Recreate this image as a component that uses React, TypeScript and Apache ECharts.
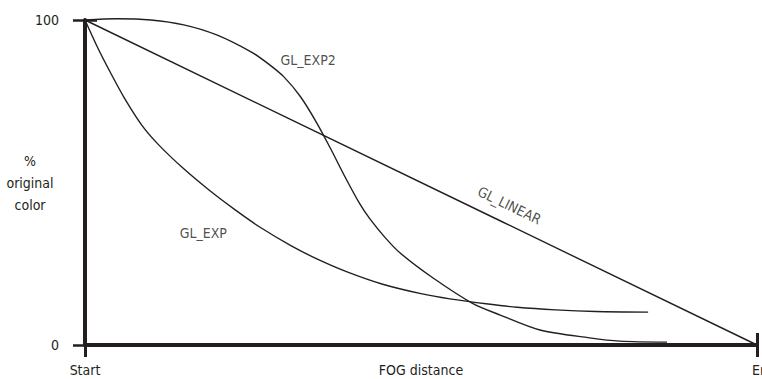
import React, { useEffect, useRef } from "react";
import * as echarts from "echarts";

// X: 0 = Start, 100 = End ; Y: % original color
const xTickLabels: Record<number, string> = { 0: "Start", 100: "End" };
const yTickValues = [0, 100];

const linearX = [0, 62, 100];
const linearY = [100, 38, 0];

const expX = [0, 2, 4, 6, 8.5, 11, 14.7, 18.5, 22.2, 26, 30.7, 34.5, 39, 44.3, 50, 54.3, 60, 64.3, 70, 76, 83.8];
const expY = [100, 91, 83, 75.5, 67.5, 61.5, 54.2, 47.6, 41.8, 36.3, 30.5, 26.5, 22.5, 18.7, 15.8, 14.2, 12.6, 11.6, 10.8, 10.3, 10.1];

const exp2X = [0, 4.8, 9.8, 14.7, 19.6, 24.7, 27.1, 29.6, 32.1, 34.5, 36.5, 38.7, 40.9, 42.4, 44.6, 46.9, 51.8, 57.6, 61.8, 67.7, 75.1, 79.6, 86.6];
const exp2Y = [100, 100.4, 100, 98.5, 95.4, 90.2, 86.8, 82.5, 76.3, 68.3, 60.6, 51.7, 43.4, 38.8, 33.2, 28.3, 20.6, 12.9, 9.2, 4.6, 2.2, 1.2, 0.9];

const curveNames = ["GL_EXP2", "GL_EXP", "GL_LINEAR"];
const curveLabelX = [33.2, 17.6, 62];
const curveLabelY = [87.7, 34.5, 38];

const INK = "#231f20";
const FONT = "'Liberation Sans Narrow', 'DejaVu Sans Condensed', Roboto, sans-serif";

const zip = (xs: number[], ys: number[]) => xs.map((x, i) => [x, ys[i]]);

export default function App() {
  const ref = useRef<HTMLDivElement>(null);
  useEffect(() => {
    document.body.style.margin = "0";
    if (!ref.current) return;
    const chart = echarts.init(ref.current, undefined, { renderer: "svg" });
    const textStyle = { fontFamily: FONT, fontSize: 14, color: INK };
    const lineStyle = { color: INK, width: 1.4 };
    chart.setOption({
      animation: false,
      textStyle,
      grid: { left: 85, right: 5, top: 20, bottom: 34, containLabel: false, outerBoundsMode: "none" },
      xAxis: [
        {
          type: "value",
          min: 0,
          max: 100,
          interval: 100,
          position: "bottom",
          axisLine: { show: true, lineStyle: { color: INK, width: 4 } },
          axisTick: { show: true, length: 12, lineStyle: { color: INK, width: 3 } },
          splitLine: { show: false },
          axisLabel: {
            ...textStyle,
            margin: 18,
            formatter: (v: number) => (v === 100 ? "{e|" + xTickLabels[v] + "}" : xTickLabels[v] ?? ""),
            rich: { e: { ...textStyle, padding: [0, 0, 0, 14] } },
          },
          name: "FOG distance",
          nameLocation: "middle",
          nameGap: 18,
          nameMoveOverlap: false,
          nameTextStyle: { ...textStyle, verticalAlign: "top" },
        },
        {
          type: "value",
          min: 0,
          max: 100,
          interval: 100,
          position: "bottom",
          axisLine: { show: false },
          axisTick: { show: true, inside: true, length: 12, lineStyle: { color: INK, width: 3 } },
          axisLabel: { show: false },
          splitLine: { show: false },
        },
      ],
      yAxis: [
        {
          type: "value",
          min: yTickValues[0],
          max: yTickValues[1],
          interval: 100,
          axisLine: { show: true, lineStyle: { color: INK, width: 4 } },
          axisTick: { show: true, length: 12, lineStyle: { color: INK, width: 2.5 } },
          splitLine: { show: false },
          axisLabel: { ...textStyle, margin: 26 },
          name: "%\noriginal\ncolor",
          nameLocation: "middle",
          nameRotate: 0,
          nameGap: 55,
          nameMoveOverlap: false,
          nameTextStyle: { ...textStyle, align: "center", verticalAlign: "middle", lineHeight: 22 },
        },
        {
          type: "value",
          min: 0,
          max: 100,
          interval: 100,
          position: "left",
          axisLine: { show: false },
          axisTick: { show: true, inside: true, length: 12, lineStyle: { color: INK, width: 2.5 } },
          axisLabel: { show: false },
          splitLine: { show: false },
        },
      ],
      series: [
        {
          name: "GL_LINEAR",
          type: "line",
          data: zip(linearX, linearY),
          showSymbol: false,
          clip: false,
          lineStyle,
        },
        {
          name: "GL_EXP",
          type: "line",
          data: zip(expX, expY),
          smooth: 0.3,
          showSymbol: false,
          clip: false,
          lineStyle,
        },
        {
          name: "GL_EXP2",
          type: "line",
          data: zip(exp2X, exp2Y),
          smooth: 0.3,
          showSymbol: false,
          clip: false,
          lineStyle,
        },
        {
          name: "labels",
          type: "scatter",
          symbolSize: 0,
          clip: false,
          silent: true,
          data: curveNames.map((n, i) => ({
            value: [curveLabelX[i], curveLabelY[i]],
            name: n,
            label: n === "GL_LINEAR" ? { rotate: -25.8, offset: [0, -18] } : {},
          })),
          label: {
            show: true,
            position: "inside",
            formatter: (p: any) => p.name,
            ...textStyle,
            align: "center",
            verticalAlign: "middle",
          },
        },
      ],
    });
    return () => chart.dispose();
  }, []);
  return <div ref={ref} style={{ width: 762, height: 379 }} />;
}
